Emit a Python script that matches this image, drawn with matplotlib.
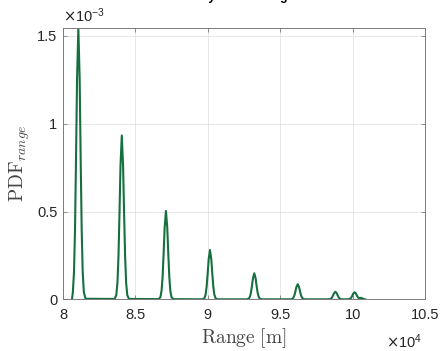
import matplotlib
matplotlib.use("Agg")
import matplotlib.pyplot as plt
from matplotlib.ticker import FixedLocator, FuncFormatter

# ---- data ----
range_m = [
    80620, 80680, 80760, 80830, 80900, 80970, 81060, 81150, 81220, 81290, 81360, 81440, 81560,   # peak 1
    83560, 83680, 83760, 83830, 83900, 83970, 84060, 84150, 84220, 84290, 84360, 84440, 84560,   # peak 2
    86610, 86730, 86810, 86880, 86950, 87020, 87110, 87200, 87270, 87340, 87410, 87490, 87610,   # peak 3
    89650, 89770, 89850, 89920, 89990, 90060, 90150, 90240, 90310, 90380, 90450, 90530, 90650,   # peak 4
    92710, 92830, 92910, 92980, 93050, 93120, 93210, 93300, 93370, 93440, 93510, 93590, 93710,   # peak 5
    95710, 95830, 95910, 95980, 96050, 96120, 96210, 96300, 96370, 96440, 96510, 96590, 96710,   # peak 6
    98310, 98430, 98510, 98580, 98650, 98720, 98810, 98900, 98970, 99040, 99110, 99190, 99310,   # peak 7
    99640, 99760, 99840, 99910, 99980, 100050, 100140,                                           # peak 8
    100230, 100300, 100370, 100440, 100520, 100600, 100680, 100760, 100860,
]
pdf_range = [
    0, 0.039e-3, 0.156e-3, 0.400e-3, 0.803e-3, 1.256e-3, 1.545e-3, 1.256e-3, 0.803e-3, 0.400e-3, 0.156e-3, 0.039e-3, 0.003e-3,
    0.002e-3, 0.023e-3, 0.094e-3, 0.242e-3, 0.485e-3, 0.759e-3, 0.933e-3, 0.759e-3, 0.485e-3, 0.242e-3, 0.094e-3, 0.023e-3, 0.002e-3,
    0.001e-3, 0.013e-3, 0.051e-3, 0.130e-3, 0.262e-3, 0.409e-3, 0.503e-3, 0.409e-3, 0.262e-3, 0.130e-3, 0.051e-3, 0.013e-3, 0.001e-3,
    0, 0.007e-3, 0.028e-3, 0.073e-3, 0.146e-3, 0.228e-3, 0.281e-3, 0.228e-3, 0.146e-3, 0.073e-3, 0.028e-3, 0.007e-3, 0,
    0, 0.004e-3, 0.015e-3, 0.038e-3, 0.077e-3, 0.120e-3, 0.148e-3, 0.120e-3, 0.077e-3, 0.038e-3, 0.015e-3, 0.004e-3, 0,
    0, 0.002e-3, 0.009e-3, 0.022e-3, 0.045e-3, 0.070e-3, 0.086e-3, 0.070e-3, 0.045e-3, 0.022e-3, 0.009e-3, 0.002e-3, 0,
    0, 0.001e-3, 0.004e-3, 0.011e-3, 0.022e-3, 0.035e-3, 0.043e-3, 0.035e-3, 0.022e-3, 0.011e-3, 0.004e-3, 0.001e-3, 0,
    0, 0.001e-3, 0.004e-3, 0.010e-3, 0.021e-3, 0.033e-3, 0.040e-3,
    0.033e-3, 0.021e-3, 0.011e-3, 0.007e-3, 0.008e-3, 0.008e-3, 0.005e-3, 0.002e-3, 0,
]
x_ticks = [80000, 85000, 90000, 95000, 100000, 105000]
x_tick_labels = ["8", "8.5", "9", "9.5", "10", "10.5"]
y_ticks = [0, 0.5e-3, 1.0e-3, 1.5e-3]
y_tick_labels = ["0", "0.5", "1", "1.5"]
title_text = "Intensity of the Range"

plt.rcParams["font.family"] = ["Liberation Sans", "DejaVu Sans"]

fig = plt.figure(figsize=(4.4, 3.51), dpi=100)
ax = fig.add_axes([63 / 440, 1 - 299.3 / 351, (425 - 63) / 440, (299.3 - 28) / 351])

ax.plot(range_m, pdf_range, color="#15703f", lw=1.5, solid_joinstyle="round")

ax.set_xlim(80000, 105000)
ax.set_ylim(0, 1.545e-3)
ax.xaxis.set_major_locator(FixedLocator(x_ticks))
ax.yaxis.set_major_locator(FixedLocator(y_ticks))
ax.xaxis.set_major_formatter(FuncFormatter(lambda v, p: x_tick_labels[x_ticks.index(v)] if v in x_ticks else ""))
ax.yaxis.set_major_formatter(FuncFormatter(lambda v, p: y_tick_labels[y_ticks.index(v)] if v in y_ticks else ""))

ax.grid(True, color="#e3e3e3", lw=0.6)
ax.set_axisbelow(True)
for s in ax.spines.values():
    s.set_color("#7a7a7a")
    s.set_linewidth(0.7)
ax.tick_params(direction="in", length=3, width=0.6, color="#7a7a7a",
               labelsize=10.5, labelcolor="#262626", top=True, right=True)
ax.tick_params(axis="x", pad=6)
ax.tick_params(axis="y", pad=4)

ax.set_xlabel(r"$\mathrm{Range\ [m]}$", fontsize=14, math_fontfamily="cm",
              color="#444444")
ax.xaxis.set_label_coords(0.5, -0.098)
ax.set_ylabel(r"$\mathrm{PDF}_{range}$", fontsize=14, math_fontfamily="cm",
              color="#444444", labelpad=4)

ax.text(0.0, 1.012, r"$\times\mathregular{10^{-3}}$", transform=ax.transAxes,
        fontsize=10.5, color="#262626", ha="left", va="bottom",
        math_fontfamily="dejavusans")
fig.text(386 / 440, 1 - 348 / 351, r"$\times\mathregular{10^{4}}$",
         fontsize=10.5, color="#262626", ha="left", va="baseline",
         math_fontfamily="dejavusans")

fig.text(164 / 440, 0.999, title_text, fontsize=9, fontweight="bold",
         ha="left", va="baseline", color="black")

fig.savefig("out.png", dpi=100)
